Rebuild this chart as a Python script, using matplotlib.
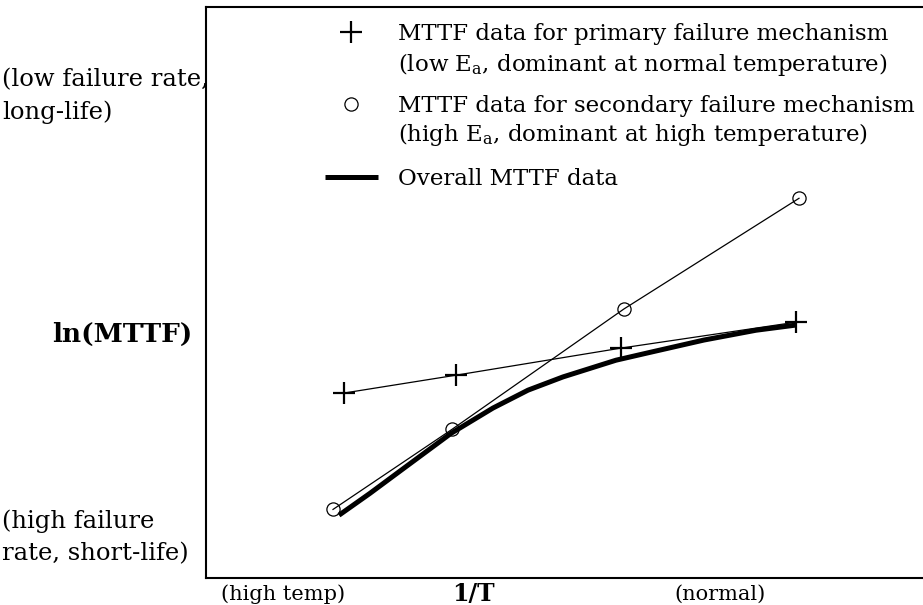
import numpy as np
import matplotlib.pyplot as plt

# data (arbitrary units: 1/T on x, ln(MTTF) on y)
primary_x = [1.38, 2.50, 4.15, 5.90]
primary_y = [3.30, 3.61, 4.08, 4.53]

secondary_x = [1.27, 2.46, 4.18, 5.93]
secondary_y = [1.28, 2.67, 4.76, 6.68]

overall_x = [1.33, 1.64, 1.99, 2.45, 2.87, 3.22, 3.57, 4.10, 4.45, 4.98, 5.50, 5.90]
overall_y = [1.18, 1.56, 2.01, 2.60, 3.04, 3.35, 3.58, 3.87, 4.01, 4.22, 4.39, 4.48]

label_primary   = 'MTTF data for primary failure mechanism'
label_primary2  = r'(low E$_\mathrm{a}$, dominant at normal temperature)'
label_secondary = 'MTTF data for secondary failure mechanism'
label_secondary2 = r'(high E$_\mathrm{a}$, dominant at high temperature)'
label_overall   = 'Overall MTTF data'

plt.rcParams['font.family'] = 'DejaVu Serif'
plt.rcParams['mathtext.fontset'] = 'dejavuserif'
fontsize = 16.5

W, H = 923, 605
fig = plt.figure(figsize=(W / 100, H / 100), dpi=100)
# axes box in pixels: left 206, top 7, bottom 578, right off the picture
ax = fig.add_axes([206 / W, 1 - 578 / H, (W - 206) / W, (578 - 7) / H])
ax.set_xlim(0, 7.17)
ax.set_ylim(0.09, 10)

# curves
ax.plot(primary_x, primary_y, color='black', linewidth=0.9)
ax.plot(secondary_x, secondary_y, color='black', linewidth=0.9)
ax.plot(overall_x, overall_y, color='black', linewidth=3.6,
        solid_capstyle='butt', solid_joinstyle='round', label=label_overall)
ax.plot(primary_x, primary_y, linestyle='none', marker='+', color='black',
        markersize=16, markeredgewidth=1.6, label=label_primary)
ax.plot(secondary_x, secondary_y, linestyle='none', marker='o', color='black',
        markerfacecolor='none', markersize=9.5, markeredgewidth=0.9,
        label=label_secondary)

# legend, one line per entry, second lines as text
h, l = ax.get_legend_handles_labels()
order = [1, 2, 0]
ax.legend([h[i] for i in order], [l[i] for i in order],
          loc='upper left', bbox_to_anchor=(325 / W, 1 - 23 / H),
          bbox_transform=fig.transFigure, frameon=False,
          prop={'size': fontsize}, numpoints=1,
          handlelength=2.3, handletextpad=0.87, labelspacing=2.2,
          borderpad=0, borderaxespad=0)
fig.text(398 / W, 1 - 65 / H, label_primary2, fontsize=fontsize, va='center')
fig.text(398 / W, 1 - 134 / H, label_secondary2, fontsize=fontsize, va='center')

# frame
ax.spines['right'].set_visible(False)
for s in ['left', 'top', 'bottom']:
    ax.spines[s].set_linewidth(1.5)
ax.set_xticks([])
ax.set_yticks([])

# axis captions
side = 17.5
fig.text(2 / W, 1 - 96 / H, '(low failure rate,\nlong-life)', fontsize=side,
         va='center', ha='left', linespacing=1.5)
fig.text(192 / W, 1 - 334 / H, 'ln(MTTF)', fontsize=19,
         fontweight='bold', va='center', ha='right')
fig.text(2 / W, 1 - 537 / H, '(high failure\nrate, short-life)', fontsize=side,
         va='center', ha='left', linespacing=1.5)
fig.text(283 / W, 1 - 594 / H, '(high temp)', fontsize=15,
         va='center', ha='center')
fig.text(473 / W, 1 - 594 / H, '1/T', fontsize=17,
         fontweight='bold', va='center', ha='center')
fig.text(720 / W, 1 - 594 / H, '(normal)', fontsize=15,
         va='center', ha='center')

fig.savefig('out.png', dpi=100)
